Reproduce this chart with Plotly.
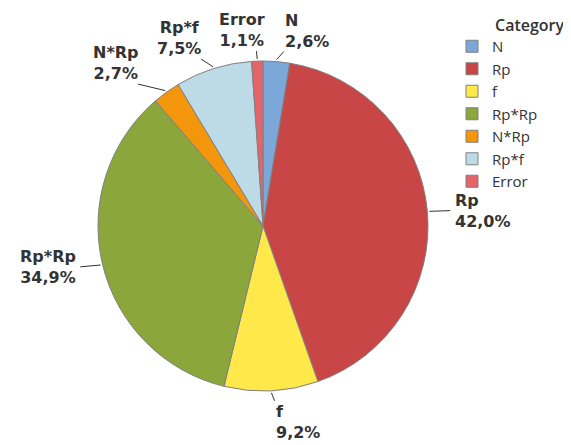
import math
import plotly.graph_objects as go

categories = ["N", "Rp", "f", "Rp*Rp", "N*Rp", "Rp*f", "Error"]
values = [2.6, 42.0, 9.2, 34.9, 2.7, 7.5, 1.1]
colors = ["#7BA7D9", "#C84646", "#FFE84A", "#8BA63A", "#F4960C", "#BDDBE6", "#E4646A"]

# page offset of the figure (body margin) and figure size
OFF = 8
W, H = 571 - OFF, 445 - OFF
CX, CY, R = 263, 226, 165  # pie centre and radius in page pixels
RX = 180                   # horizontal reach used for label placement
FS = 16                    # label font size
LINE_H = 1.3 * FS

def px2paper(x, y):
    return (x - OFF) / W, 1 - (y - OFF) / H

dx0, dy1 = px2paper(CX - R, CY - R)
dx1, dy0 = px2paper(CX + R, CY + R)

fig = go.Figure(go.Pie(
    labels=categories,
    values=values,
    sort=False,
    direction="clockwise",
    rotation=0,
    marker=dict(colors=colors, line=dict(color="#808080", width=1)),
    textinfo="none",
    domain=dict(x=[dx0, dx1], y=[dy0, dy1]),
    hoverinfo="skip",
))

CHAR_W = {",": 0.38, "*": 0.5, "%": 1.0, "f": 0.435, "r": 0.49, "1": 0.696}

def text_w(t):
    return sum(CHAR_W.get(ch, 0.72) for ch in t) * FS

# natural label boxes
total = sum(values)
cum = 0.0
labs = []
for lab, v in zip(categories, values):
    ang = 2 * math.pi * (cum + v / 2) / total
    cum += v
    s, c = math.sin(ang), math.cos(ang)
    pct = f"{100 * v / total:.1f}".replace(".", ",") + "%"
    w = max(text_w(lab), text_w(pct))
    h = 2 * LINE_H
    ex, ey = CX + (RX + 10) * s, CY - (R + 10) * c
    cx = ex + (2 + w / 2) * (1 if s > 0 else -1)
    if c > 0.5:
        kind = "top"
        yb = ey; yt = ey - h
    elif c < -0.5:
        kind = "bottom"
        yt = ey; yb = ey + h
    else:
        kind = "side"
        yt = ey - h / 2; yb = ey + h / 2
    labs.append(dict(lab=lab, pct=pct, s=s, c=c, w=w, cx=cx, yt=yt, yb=yb, kind=kind, ex=ex, ey=ey))

# push apart labels that overlap horizontally
GAP = 18
for _ in range(300):
    moved = False
    for i in range(len(labs)):
        for j in range(len(labs)):
            a, b = labs[i], labs[j]
            if i == j or a["cx"] > b["cx"]:
                continue
            if a["yb"] <= b["yt"] or b["yb"] <= a["yt"]:
                continue
            need = (a["w"] + b["w"]) / 2 + GAP - (b["cx"] - a["cx"])
            if need > 0.01:
                a["cx"] -= need / 2
                b["cx"] += need / 2
                moved = True
    if not moved:
        break

annotations = []
shapes = []
for L in labs:
    s, c = L["s"], L["c"]
    sx, sy = CX + (R + 2) * s, CY - (R + 2) * c
    left, right = L["cx"] - L["w"] / 2, L["cx"] + L["w"] / 2
    if L["kind"] == "top":
        tx_, ty_ = min(max(L["ex"], left), right), L["yb"]
    elif L["kind"] == "bottom":
        tx_, ty_ = min(max(L["ex"], left), right), L["yt"]
    else:
        tx_, ty_ = (left - 4 if s > 0 else right + 4), L["ey"]
    x0, y0 = px2paper(sx, sy)
    x1, y1 = px2paper(tx_, ty_)
    shapes.append(dict(type="line", xref="paper", yref="paper", x0=x0, y0=y0, x1=x1, y1=y1,
                       line=dict(color="#333333", width=1)))
    ax, ay = px2paper(left if s > 0 else L["cx"], (L["yt"] + L["yb"]) / 2)
    annotations.append(dict(
        xref="paper", yref="paper", x=ax, y=ay,
        xanchor="left" if s > 0 else "center", yanchor="middle",
        align="left" if s > 0 else "center",
        showarrow=False, borderpad=0,
        text=f"<b>{L['lab']}<br>{L['pct']}</b>",
        font=dict(family="DejaVu Sans", size=FS, color="#333333"),
    ))

# legend title, aligned with the legend entry texts
tx, ty = px2paper(493, 25)
annotations.append(dict(
    xref="paper", yref="paper", x=tx, y=ty, xanchor="left", yanchor="middle",
    showarrow=False, text="Category",
    font=dict(family="Open Sans", size=16, color="#333333", weight=600),
))

lx, ly = px2paper(452, 30)
fig.update_layout(
    width=W, height=H,
    margin=dict(l=0, r=0, t=0, b=0),
    paper_bgcolor="white",
    showlegend=True,
    shapes=shapes,
    annotations=annotations,
    legend=dict(
        font=dict(family="Open Sans", size=15, color="#333333"),
        x=lx, y=ly, xanchor="left", yanchor="top",
        tracegroupgap=0,
    ),
)

fig.write_html("out.html")
